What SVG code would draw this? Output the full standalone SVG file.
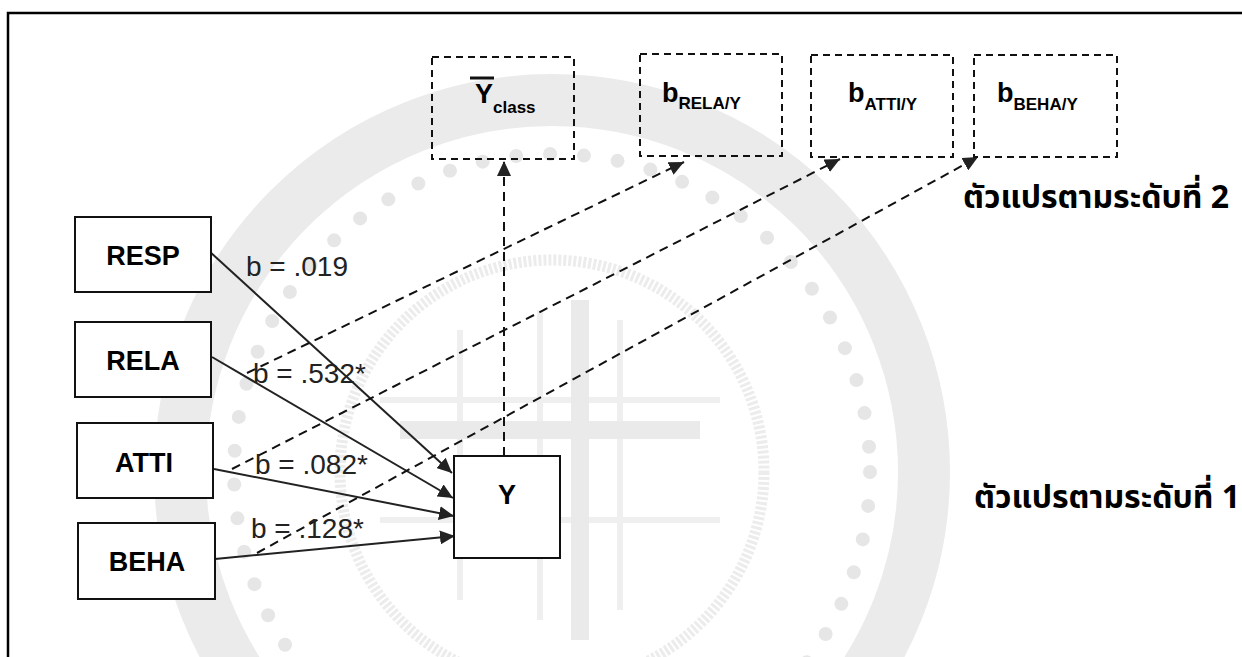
<svg xmlns="http://www.w3.org/2000/svg" width="1242" height="657" viewBox="0 0 1242 657">
<style>
.box{fill:#fff;stroke:#111;stroke-width:2}
.dbox{fill:none;stroke:#111;stroke-width:2;stroke-dasharray:7 5}
.nl{font-family:"Liberation Sans",Arial,sans-serif;font-weight:bold;font-size:27px;fill:#000;text-anchor:middle}
.tb{font-family:"Liberation Sans",Arial,sans-serif;font-weight:bold;font-size:27px;fill:#000}
.sub{font-size:17px}
.lb{font-family:"Liberation Sans",Arial,sans-serif;font-size:28px;fill:#222}
.th{font-family:"Noto Sans Thai","Noto Sans","DejaVu Sans",sans-serif;font-weight:bold;font-size:32px;fill:#000}
.sl{fill:none;stroke:#222;stroke-width:2}
.dl{fill:none;stroke:#111;stroke-width:2;stroke-dasharray:9 6}
.wm{fill:none}
</style>
<defs>
<marker id="ah" markerUnits="userSpaceOnUse" markerWidth="16" markerHeight="14" refX="15" refY="7" orient="auto">
<path d="M0,0 L15,7 L0,14 z" fill="#222"/>
</marker>
</defs>
<rect x="0" y="0" width="1242" height="657" fill="#fff"/>
<g id="watermark">
<circle class="wm" cx="552" cy="472" r="372" stroke="#ebebeb" stroke-width="52"/>
<circle class="wm" cx="552" cy="472" r="318" stroke="#e6e6e6" stroke-width="14" stroke-linecap="round" stroke-dasharray="0 34"/>
<circle class="wm" cx="552" cy="472" r="212" stroke="#ececec" stroke-width="11" stroke-dasharray="3 2"/>
<g stroke="#efefef" stroke-width="6">
<line x1="460" y1="330" x2="460" y2="600"/>
<line x1="540" y1="310" x2="540" y2="620"/>
<line x1="620" y1="320" x2="620" y2="610"/>
<line x1="380" y1="400" x2="720" y2="400"/>
<line x1="380" y1="520" x2="720" y2="520"/>
</g>
<g stroke="#eaeaea" stroke-width="18">
<line x1="580" y1="300" x2="580" y2="640"/>
<line x1="400" y1="430" x2="700" y2="430"/>
</g>
</g>
<rect x="8" y="13" width="1250" height="660" fill="none" stroke="#000" stroke-width="2.5"/>
<g id="connectors">
<line class="sl" x1="209" y1="251" x2="452" y2="473" marker-end="url(#ah)"/>
<line class="sl" x1="212" y1="357" x2="453" y2="498" marker-end="url(#ah)"/>
<line class="sl" x1="214" y1="469" x2="454" y2="516" marker-end="url(#ah)"/>
<line class="sl" x1="215" y1="559" x2="455" y2="536" marker-end="url(#ah)"/>
<line class="dl" x1="504" y1="456" x2="504" y2="161" marker-end="url(#ah)"/>
<line class="dl" x1="247" y1="373" x2="684" y2="162" marker-end="url(#ah)"/>
<line class="dl" x1="232" y1="469" x2="840" y2="159" marker-end="url(#ah)"/>
<line class="dl" x1="257" y1="553" x2="978" y2="157" marker-end="url(#ah)"/>
</g>
<g id="RESP"><rect class="box" x="75" y="217" width="136" height="75"/><text class="nl" x="143" y="265">RESP</text></g>
<g id="RELA"><rect class="box" x="75" y="322" width="136" height="75"/><text class="nl" x="143" y="370">RELA</text></g>
<g id="ATTI"><rect class="box" x="77" y="423" width="136" height="75"/><text class="nl" x="144" y="472">ATTI</text></g>
<g id="BEHA"><rect class="box" x="78" y="523" width="137" height="76"/><text class="nl" x="147" y="571">BEHA</text></g>
<g id="Y"><rect class="box" x="454" y="456" width="106" height="102"/><text class="nl" x="507" y="504">Y</text></g>
<g id="Yclass"><rect class="dbox" x="432" y="57" width="142" height="102"/><line x1="470" y1="78" x2="494" y2="78" stroke="#111" stroke-width="3"/><text class="tb" x="475" y="103">Y<tspan class="sub" dy="10">class</tspan></text></g>
<g id="bRELA"><rect class="dbox" x="640" y="54" width="142" height="102"/><text class="tb" x="662" y="102">b<tspan class="sub" dy="7">RELA/Y</tspan></text></g>
<g id="bATTI"><rect class="dbox" x="811" y="55" width="142" height="102"/><text class="tb" x="848" y="102">b<tspan class="sub" dy="8">ATTI/Y</tspan></text></g>
<g id="bBEHA"><rect class="dbox" x="974" y="55" width="143" height="102"/><text class="tb" x="997" y="102">b<tspan class="sub" dy="8">BEHA/Y</tspan></text></g>
<g id="labels">
<text class="lb" x="246" y="276">b = .019</text>
<text class="lb" x="253" y="383">b = .532*</text>
<text class="lb" x="255" y="474">b = .082*</text>
<text class="lb" x="251" y="538">b = .128*</text>
<text class="th" x="963" y="208">ตัวแปรตามระดับที่ 2</text>
<text class="th" x="974" y="508">ตัวแปรตามระดับที่ 1</text>
</g>
</svg>
